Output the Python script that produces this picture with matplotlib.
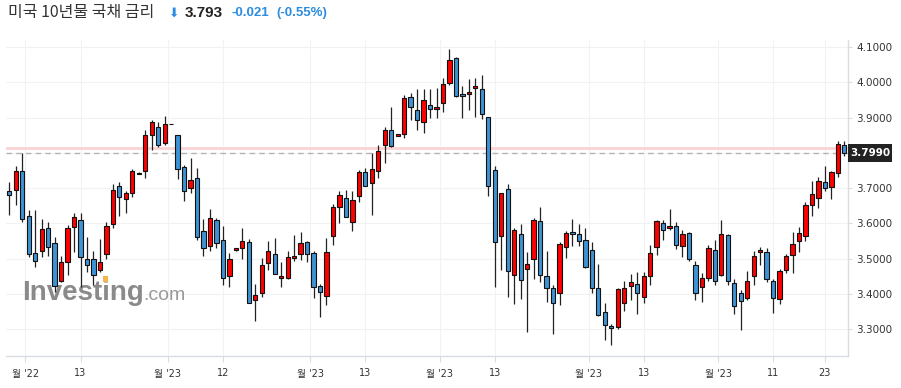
import matplotlib

matplotlib.use("Agg")
import matplotlib.pyplot as plt
import numpy as np
from matplotlib.patches import Rectangle

W, H = 901, 388

# daily OHLC
opens = [3.693, 3.694, 3.748, 3.620, 3.515, 3.521, 3.586, 3.544, 3.437, 3.491,
         3.589, 3.609, 3.499, 3.499, 3.468, 3.514, 3.598, 3.706, 3.669, 3.685,
         3.744, 3.748, 3.850, 3.873, 3.827, 3.882, 3.850, 3.760, 3.700, 3.728,
         3.578, 3.535, 3.609, 3.552, 3.450, 3.524, 3.530, 3.547, 3.382, 3.402,
         3.487, 3.513, 3.445, 3.445, 3.501, 3.513, 3.547, 3.516, 3.422, 3.394,
         3.564, 3.646, 3.672, 3.604, 3.677, 3.745, 3.714, 3.748, 3.822, 3.865,
         3.848, 3.853, 3.958, 3.921, 3.887, 3.935, 3.924, 3.941, 3.998, 4.069,
         3.967, 3.967, 3.984, 3.981, 3.901, 3.751, 3.564, 3.697, 3.453, 3.570,
         3.470, 3.499, 3.606, 3.450, 3.416, 3.402, 3.533, 3.575, 3.570, 3.552,
         3.524, 3.416, 3.348, 3.309, 3.306, 3.374, 3.422, 3.428, 3.391, 3.450,
         3.533, 3.601, 3.587, 3.592, 3.535, 3.572, 3.482, 3.419, 3.445, 3.524,
         3.453, 3.567, 3.430, 3.402, 3.388, 3.450, 3.518, 3.518, 3.436, 3.385,
         3.467, 3.510, 3.550, 3.564, 3.652, 3.672, 3.717, 3.703, 3.743, 3.822]
highs = [3.719, 3.764, 3.799, 3.639, 3.637, 3.612, 3.605, 3.561, 3.508, 3.595,
         3.631, 3.631, 3.561, 3.523, 3.557, 3.603, 3.711, 3.719, 3.693, 3.754,
         3.745, 3.865, 3.894, 3.887, 3.905, 3.882, 3.850, 3.765, 3.785, 3.757,
         3.612, 3.640, 3.615, 3.592, 3.516, 3.531, 3.587, 3.555, 3.428, 3.501,
         3.550, 3.558, 3.490, 3.521, 3.567, 3.575, 3.550, 3.521, 3.428, 3.558,
         3.655, 3.691, 3.694, 3.691, 3.751, 3.757, 3.799, 3.822, 3.873, 3.930,
         3.854, 3.964, 3.970, 3.981, 3.981, 3.981, 3.984, 4.012, 4.094, 4.072,
         3.989, 4.009, 4.012, 4.021, 3.901, 3.762, 3.686, 3.711, 3.587, 3.598,
         3.518, 3.615, 3.646, 3.521, 3.425, 3.547, 3.578, 3.612, 3.598, 3.587,
         3.547, 3.484, 3.374, 3.314, 3.416, 3.436, 3.456, 3.462, 3.462, 3.538,
         3.609, 3.609, 3.640, 3.604, 3.581, 3.575, 3.493, 3.459, 3.538, 3.552,
         3.609, 3.570, 3.442, 3.411, 3.465, 3.521, 3.533, 3.530, 3.442, 3.470,
         3.513, 3.575, 3.589, 3.660, 3.720, 3.731, 3.762, 3.748, 3.833, 3.833]
lows = [3.624, 3.653, 3.605, 3.506, 3.476, 3.504, 3.509, 3.405, 3.435, 3.454,
        3.520, 3.421, 3.461, 3.426, 3.462, 3.499, 3.587, 3.622, 3.629, 3.676,
        3.739, 3.729, 3.808, 3.818, 3.823, 3.882, 3.726, 3.665, 3.686, 3.553,
        3.509, 3.523, 3.530, 3.424, 3.419, 3.523, 3.499, 3.374, 3.322, 3.391,
        3.467, 3.456, 3.421, 3.442, 3.493, 3.496, 3.490, 3.388, 3.334, 3.368,
        3.538, 3.601, 3.618, 3.578, 3.660, 3.706, 3.623, 3.728, 3.771, 3.816,
        3.847, 3.842, 3.893, 3.865, 3.856, 3.899, 3.899, 3.916, 3.992, 3.958,
        3.899, 3.921, 3.901, 3.896, 3.677, 3.419, 3.467, 3.391, 3.371, 3.385,
        3.291, 3.442, 3.433, 3.377, 3.286, 3.368, 3.501, 3.535, 3.535, 3.473,
        3.402, 3.337, 3.269, 3.255, 3.300, 3.351, 3.382, 3.343, 3.374, 3.425,
        3.510, 3.552, 3.581, 3.527, 3.504, 3.493, 3.382, 3.377, 3.436, 3.425,
        3.450, 3.425, 3.343, 3.297, 3.382, 3.425, 3.482, 3.433, 3.345, 3.371,
        3.459, 3.459, 3.518, 3.550, 3.621, 3.643, 3.691, 3.669, 3.731, 3.791]
closes = [3.680, 3.750, 3.612, 3.513, 3.493, 3.584, 3.534, 3.423, 3.490, 3.586,
          3.618, 3.504, 3.482, 3.453, 3.490, 3.592, 3.694, 3.674, 3.686, 3.750,
          3.740, 3.850, 3.887, 3.822, 3.881, 3.882, 3.754, 3.691, 3.723, 3.561,
          3.530, 3.615, 3.544, 3.445, 3.499, 3.530, 3.550, 3.374, 3.398, 3.482,
          3.521, 3.456, 3.450, 3.506, 3.507, 3.544, 3.513, 3.419, 3.405, 3.518,
          3.646, 3.680, 3.618, 3.666, 3.745, 3.706, 3.754, 3.805, 3.865, 3.819,
          3.853, 3.955, 3.930, 3.893, 3.950, 3.924, 3.930, 3.995, 4.063, 3.961,
          3.961, 3.972, 3.989, 3.910, 3.706, 3.547, 3.686, 3.465, 3.581, 3.439,
          3.484, 3.609, 3.453, 3.416, 3.374, 3.541, 3.572, 3.570, 3.550, 3.476,
          3.416, 3.340, 3.311, 3.303, 3.413, 3.416, 3.433, 3.402, 3.450, 3.516,
          3.606, 3.581, 3.592, 3.538, 3.570, 3.499, 3.402, 3.445, 3.530, 3.436,
          3.570, 3.436, 3.365, 3.379, 3.436, 3.507, 3.524, 3.442, 3.388, 3.465,
          3.507, 3.541, 3.572, 3.652, 3.683, 3.720, 3.700, 3.745, 3.825, 3.799]

# date ticks: candle index and label
tick_index = [2.5, 11, 24.5, 33, 46.5, 55, 66.5, 75, 89.5, 98, 109.5, 118, 126]
tick_labels = ["월 '22", "13", "월 '23", "12", "월 '23", "13", "월 '23", "13",
               "월 '23", "13", "월 '23", "11", "23"]
price_ticks = [3.3, 3.4, 3.5, 3.6, 3.7, 3.8, 3.9, 4.0, 4.1]

last_price = 3.7990
ref_line = 3.815
title = "미국 10년물 국채 금리"
quote = "3.793"
change = "-0.021"
change_pct = "(-0.55%)"

UP = "#ff0000"
DOWN = "#3f93d4"
BLUE_TXT = "#2b8ce0"
GRID = "#f1f2f5"
AXIS = "#d9dce2"

plt.rcParams["font.family"] = ["DejaVu Sans", "Noto Sans CJK KR"]


def fx(px):
    return px / W


def fy(py):
    return 1 - py / H


fig = plt.figure(figsize=(W / 100, H / 100), dpi=100)
ax = fig.add_axes([fx(6), fy(356), (848 - 6) / W, (356 - 40) / H])

o = np.array(opens)
c = np.array(closes)
x = np.arange(len(o))
colors = [UP if cc > oo else DOWN for oo, cc in zip(o, c)]

ax.vlines(x, lows, highs, color="#222222", linewidth=0.9, zorder=3)
ax.bar(x, np.abs(c - o), bottom=np.minimum(o, c), width=0.66, color=colors,
       edgecolor="#111111", linewidth=0.8, zorder=4)

ax.axhline(ref_line, color="#fcd3d3", linewidth=2, zorder=2)
ax.axhline(last_price, color="#b4b4b4", linewidth=1, linestyle=(0, (4, 3)), zorder=2)

ax.set_xlim(-0.51, 129.57)
ax.set_ylim(3.224, 4.1204)
ax.set_xticks(tick_index)
ax.set_xticklabels(tick_labels)
ax.set_yticks(price_ticks)
# the 3.8 label sits under the last-price tag
ax.set_yticklabels(["" if abs(v - last_price) < 0.05 else f"{v:.4f}" for v in price_ticks])
ax.yaxis.tick_right()
ax.tick_params(axis="x", length=4, width=0.8, color=AXIS, labelsize=7,
               labelcolor="#333333", pad=5)
ax.tick_params(axis="y", length=3, width=0.8, color=AXIS, labelsize=7.5,
               labelcolor="#333333", pad=3)
ax.grid(True, color=GRID, linewidth=0.8, zorder=0)
ax.set_axisbelow(True)
for side in ("top", "left"):
    ax.spines[side].set_visible(False)
for side in ("right", "bottom"):
    ax.spines[side].set_color(AXIS)
    ax.spines[side].set_linewidth(1)

# watermark
ax.text(fx(22), fy(300), "Investing", transform=fig.transFigure, fontsize=20,
        fontweight="bold", family="Liberation Sans", color="#8a8a8a",
        va="baseline", ha="left", zorder=1)
ax.text(fx(143), fy(300), ".com", transform=fig.transFigure, fontsize=14,
        family="Liberation Sans", color="#999999", va="baseline", ha="left", zorder=1)
ax.add_patch(Rectangle((fx(103), fy(282)), 5 / W, 6 / H, transform=fig.transFigure,
                       facecolor="#f6b54a", edgecolor="none", zorder=1))

# current price tag
fig.patches.append(Rectangle((fx(848), fy(162)), 44 / W, 18 / H,
                             transform=fig.transFigure, facecolor="#222222",
                             edgecolor="none"))
fig.text(fx(870), fy(153), f"{last_price:.4f}", color="white", fontsize=7.5,
         fontweight="bold", ha="center", va="center")

# header
fig.text(fx(8), fy(13), title, family=["Noto Sans CJK KR", "DejaVu Sans"],
         fontsize=11.5, color="#333333", va="center", ha="left")
fig.text(fx(169), fy(13), "⬇", fontsize=9, color=BLUE_TXT, va="center", ha="left")
fig.text(fx(185), fy(13), quote, family="Liberation Sans", fontsize=11,
         fontweight="bold", color="#222222", va="center", ha="left")
fig.text(fx(232), fy(13), change, family="Liberation Sans", fontsize=9.5,
         fontweight="bold", color=BLUE_TXT, va="center", ha="left")
fig.text(fx(276), fy(13), change_pct, family="Liberation Sans", fontsize=9.5,
         fontweight="bold", color=BLUE_TXT, va="center", ha="left")

fig.savefig("out.png", dpi=100)
